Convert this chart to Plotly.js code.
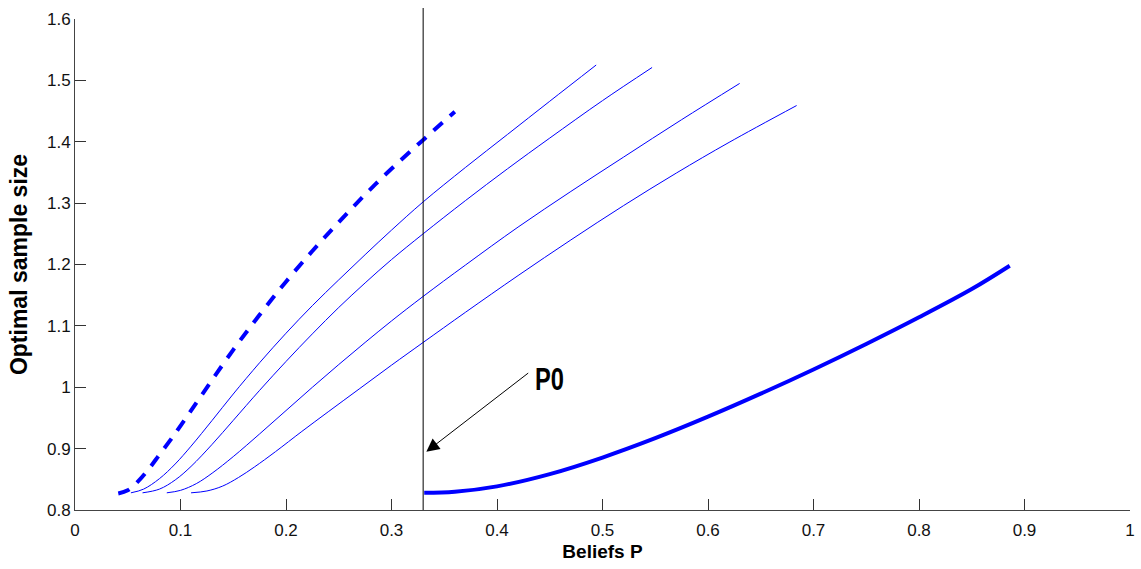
<!DOCTYPE html>
<html>
<head>
<meta charset="utf-8">
<script src="https://cdn.plot.ly/plotly-3.0.1.min.js"></script>
<style>
  html, body { margin: 0; padding: 0; background: #fff; }
  #chart { width: 1141px; height: 569px; }
  /* condensed look for the P0 label */
  #chart .annotation-text {
    transform-box: fill-box;
    transform-origin: center;
    transform: scale(0.74, 1);
  }
</style>
</head>
<body>
<div id="chart"></div>
<script>
// Optimal sample size as a function of beliefs P
const P0 = 0.33;

// dashed thick curve
const dashX = [0.041, 0.050, 0.060, 0.070, 0.080, 0.090, 0.100, 0.120, 0.150, 0.175, 0.200, 0.225, 0.250, 0.275, 0.300, 0.330, 0.360];
const dashY = [0.827, 0.832, 0.847, 0.867, 0.890, 0.913, 0.937, 0.987, 1.061, 1.118, 1.172, 1.222, 1.269, 1.314, 1.356, 1.403, 1.449];

// thin curves
const thin1X = [0.053, 0.065, 0.080, 0.095, 0.110, 0.130, 0.150, 0.175, 0.200, 0.225, 0.250, 0.275, 0.300, 0.330, 0.370, 0.410, 0.450, 0.494];
const thin1Y = [0.828, 0.834, 0.851, 0.875, 0.904, 0.946, 0.989, 1.040, 1.088, 1.133, 1.175, 1.216, 1.256, 1.302, 1.358, 1.412, 1.466, 1.525];

const thin2X = [0.064, 0.080, 0.095, 0.110, 0.130, 0.150, 0.175, 0.200, 0.225, 0.250, 0.275, 0.300, 0.330, 0.370, 0.410, 0.450, 0.500, 0.547];
const thin2Y = [0.828, 0.834, 0.849, 0.871, 0.907, 0.946, 0.995, 1.042, 1.087, 1.130, 1.170, 1.208, 1.250, 1.304, 1.356, 1.406, 1.467, 1.521];

const thin3X = [0.087, 0.100, 0.115, 0.130, 0.150, 0.175, 0.200, 0.225, 0.250, 0.275, 0.300, 0.330, 0.370, 0.420, 0.470, 0.520, 0.575, 0.630];
const thin3Y = [0.828, 0.832, 0.843, 0.860, 0.887, 0.924, 0.962, 1.000, 1.037, 1.073, 1.108, 1.148, 1.199, 1.261, 1.319, 1.375, 1.436, 1.495];

const thin4X = [0.110, 0.125, 0.140, 0.155, 0.170, 0.190, 0.215, 0.240, 0.270, 0.300, 0.330, 0.370, 0.420, 0.470, 0.520, 0.570, 0.620, 0.684];
const thin4Y = [0.828, 0.831, 0.839, 0.853, 0.870, 0.895, 0.928, 0.960, 0.998, 1.036, 1.073, 1.122, 1.182, 1.240, 1.296, 1.349, 1.399, 1.459];

// solid thick curve starting at P0
const solidX = [0.331, 0.360, 0.400, 0.450, 0.500, 0.550, 0.600, 0.650, 0.700, 0.750, 0.800, 0.850, 0.886];
const solidY = [0.828, 0.8297, 0.8385, 0.8585, 0.8855, 0.9170, 0.9520, 0.9895, 1.0290, 1.0705, 1.1140, 1.1600, 1.1980];

const xTicks = [0, 0.1, 0.2, 0.3, 0.4, 0.5, 0.6, 0.7, 0.8, 0.9, 1];
const xTickText = ['0', '0.1', '0.2', '0.3', '0.4', '0.5', '0.6', '0.7', '0.8', '0.9', '1'];
const yTicks = [0.8, 0.9, 1, 1.1, 1.2, 1.3, 1.4, 1.5, 1.6];
const yTickText = ['0.8', '0.9', '1', '1.1', '1.2', '1.3', '1.4', '1.5', '1.6'];

const BLUE = '#0000ff';
const SANS = '"Liberation Sans", Arial, Helvetica, sans-serif';

function curve(x, y, width, dash) {
  const line = { color: BLUE, width: width, shape: 'spline', smoothing: 1 };
  if (dash) line.dash = dash;
  return { x, y, type: 'scatter', mode: 'lines', line };
}

const traces = [
  curve(dashX, dashY, 4, '12px,10px'),
  curve(thin1X, thin1Y, 1),
  curve(thin2X, thin2Y, 1),
  curve(thin3X, thin3Y, 1),
  curve(thin4X, thin4Y, 1),
  curve(solidX, solidY, 4)
];

const axisCommon = {
  showgrid: false, zeroline: false, showline: true,
  linecolor: '#444', linewidth: 1,
  ticks: 'inside', ticklen: 11, tickwidth: 1, tickcolor: '#333',
  tickfont: { family: SANS, size: 17, color: '#111' },
  mirror: false, fixedrange: true
};

const layout = {
  width: 1141, height: 569,
  margin: { l: 75, r: 11, t: 19, b: 59 },
  paper_bgcolor: '#fff', plot_bgcolor: '#fff',
  showlegend: false, hovermode: false,
  xaxis: Object.assign({}, axisCommon, {
    range: [0, 1], tickvals: xTicks, ticktext: xTickText,
    ticklabelstandoff: 5,
    title: { text: 'Beliefs P', font: { family: SANS, size: 19, color: '#000', weight: 'bold' }, standoff: 5 }
  }),
  yaxis: Object.assign({}, axisCommon, {
    range: [0.8, 1.6], tickvals: yTicks, ticktext: yTickText,
    title: { text: 'Optimal sample size', font: { family: SANS, size: 23, color: '#000', weight: 'bold' }, standoff: 12 }
  }),
  shapes: [
    { type: 'line', xref: 'x', yref: 'paper', x0: P0, x1: P0, y0: 0, y1: 1.0224,
      line: { color: '#000', width: 1 } }
  ],
  annotations: [
    { xref: 'x', yref: 'y', x: 0.333, y: 0.895, axref: 'x', ayref: 'y', ax: 0.431, ay: 1.025,
      text: '', showarrow: true, arrowhead: 2, arrowsize: 2.6, arrowwidth: 1, arrowcolor: '#000' },
    { xref: 'x', yref: 'y', x: 0.450, y: 1.013, text: 'P0', showarrow: false,
      font: { family: SANS, size: 32, color: '#000', weight: 'bold' } }
  ]
};

Plotly.newPlot('chart', traces, layout, { staticPlot: true, displayModeBar: false });
</script>
</body>
</html>
